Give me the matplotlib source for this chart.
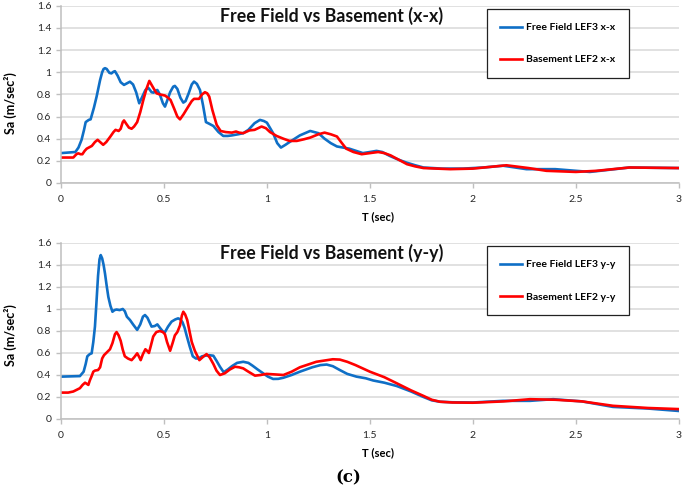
import matplotlib
matplotlib.use("Agg")
import matplotlib.pyplot as plt

plt.rcParams['font.family'] = ['Lato', 'DejaVu Sans']

# Free field vs basement, x-x direction
t_ff_x = [0, 0.07, 0.085, 0.10, 0.112, 0.12, 0.135, 0.144, 0.16, 0.173, 0.19, 0.20, 0.207, 0.214,
          0.222, 0.235, 0.245, 0.255, 0.262, 0.275, 0.29, 0.306, 0.32, 0.335, 0.35, 0.365, 0.38,
          0.395, 0.41, 0.424, 0.44, 0.45, 0.46, 0.468, 0.48, 0.495, 0.505, 0.515, 0.53, 0.545,
          0.553, 0.565, 0.58, 0.594, 0.605, 0.62, 0.635, 0.646, 0.66, 0.675, 0.69, 0.704, 0.72,
          0.74, 0.765, 0.788, 0.81, 0.83, 0.86, 0.885, 0.91, 0.94, 0.966, 0.985, 1.0, 1.03, 1.05,
          1.068, 1.09, 1.11, 1.16, 1.21, 1.25, 1.28, 1.31, 1.34, 1.40, 1.466, 1.50, 1.532, 1.56,
          1.597, 1.64, 1.678, 1.72, 1.76, 1.85, 1.953, 2.05, 2.147, 2.26, 2.40, 2.568, 2.76, 3.0]
sa_ff_x = [0.27, 0.28, 0.32, 0.39, 0.48, 0.55, 0.57, 0.575, 0.68, 0.78, 0.93, 1.0, 1.03, 1.037,
           1.03, 0.995, 0.99, 1.005, 1.01, 0.97, 0.91, 0.886, 0.90, 0.915, 0.89, 0.82, 0.72,
           0.78, 0.84, 0.86, 0.82, 0.816, 0.835, 0.84, 0.80, 0.72, 0.69, 0.74, 0.82, 0.87,
           0.877, 0.85, 0.77, 0.726, 0.74, 0.81, 0.89, 0.916, 0.895, 0.84, 0.70, 0.55, 0.535,
           0.515, 0.46, 0.425, 0.425, 0.43, 0.44, 0.45, 0.48, 0.54, 0.57, 0.56, 0.545, 0.45, 0.36,
           0.32, 0.345, 0.37, 0.43, 0.47, 0.45, 0.40, 0.36, 0.33, 0.31, 0.27, 0.28, 0.29, 0.28,
           0.244, 0.21, 0.184, 0.16, 0.14, 0.13, 0.13, 0.14, 0.156, 0.125, 0.125, 0.10, 0.14, 0.135]

t_bs_x = [0, 0.06, 0.075, 0.084, 0.095, 0.104, 0.115, 0.125, 0.14, 0.15, 0.165, 0.178, 0.19, 0.205,
          0.22, 0.24, 0.255, 0.265, 0.28, 0.29, 0.30, 0.306, 0.315, 0.33, 0.343, 0.355, 0.37,
          0.385, 0.40, 0.415, 0.429, 0.445, 0.464, 0.48, 0.505, 0.52, 0.532, 0.55, 0.565, 0.578,
          0.595, 0.618, 0.635, 0.646, 0.67, 0.685, 0.699, 0.71, 0.72, 0.735, 0.756, 0.775, 0.80,
          0.83, 0.85, 0.865, 0.885, 0.915, 0.94, 0.974, 0.995, 1.015, 1.047, 1.08, 1.11, 1.145,
          1.18, 1.21, 1.25, 1.28, 1.31, 1.34, 1.36, 1.385, 1.42, 1.46, 1.50, 1.54, 1.57, 1.60,
          1.64, 1.68, 1.72, 1.76, 1.89, 2.0, 2.163, 2.27, 2.357, 2.5, 2.6, 2.76, 3.0]
sa_bs_x = [0.23, 0.23, 0.26, 0.268, 0.26, 0.26, 0.29, 0.31, 0.325, 0.335, 0.37, 0.39, 0.37, 0.345,
           0.37, 0.42, 0.46, 0.48, 0.47, 0.49, 0.55, 0.565, 0.54, 0.50, 0.49, 0.51, 0.55,
           0.64, 0.75, 0.85, 0.922, 0.87, 0.81, 0.80, 0.79, 0.77, 0.75, 0.67, 0.60, 0.575,
           0.62, 0.69, 0.74, 0.76, 0.76, 0.80, 0.82, 0.81, 0.78, 0.66, 0.525, 0.47, 0.46,
           0.455, 0.465, 0.455, 0.45, 0.475, 0.48, 0.51, 0.495, 0.46, 0.425, 0.40, 0.38, 0.38,
           0.395, 0.41, 0.44, 0.455, 0.44, 0.42, 0.37, 0.31, 0.28, 0.26, 0.27, 0.28, 0.27, 0.25,
           0.21, 0.17, 0.15, 0.135, 0.125, 0.13, 0.16, 0.135, 0.11, 0.10, 0.11, 0.14, 0.135]

# y-y direction
t_ff_y = [0, 0.092, 0.11, 0.12, 0.128, 0.14, 0.149, 0.157, 0.165, 0.172, 0.18, 0.187, 0.193, 0.20,
          0.207, 0.214, 0.222, 0.23, 0.24, 0.25, 0.26, 0.27, 0.285, 0.30, 0.31, 0.32, 0.335,
          0.35, 0.37, 0.385, 0.398, 0.408, 0.42, 0.44, 0.455, 0.468, 0.48, 0.495, 0.505, 0.52,
          0.537, 0.555, 0.569, 0.58, 0.59, 0.60, 0.61, 0.625, 0.64, 0.655, 0.668, 0.685, 0.70,
          0.72, 0.74, 0.755, 0.772, 0.79, 0.81, 0.83, 0.855, 0.885, 0.91, 0.93, 0.955, 0.982,
          1.005, 1.03, 1.055, 1.08, 1.12, 1.16, 1.22, 1.26, 1.29, 1.32, 1.354, 1.39, 1.435, 1.48,
          1.516, 1.57, 1.63, 1.70, 1.76, 1.80, 1.84, 1.90, 2.0, 2.147, 2.277, 2.39, 2.53, 2.68,
          2.85, 3.0]
sa_ff_y = [0.385, 0.39, 0.43, 0.50, 0.57, 0.59, 0.597, 0.70, 0.84, 1.05, 1.30, 1.45, 1.49, 1.46,
           1.40, 1.32, 1.21, 1.11, 1.03, 0.975, 0.99, 0.995, 0.99, 1.0, 0.98, 0.93, 0.90,
           0.86, 0.81, 0.86, 0.93, 0.945, 0.92, 0.84, 0.845, 0.86, 0.83, 0.795, 0.79, 0.84,
           0.885, 0.905, 0.915, 0.905, 0.88, 0.83, 0.76, 0.66, 0.57, 0.55, 0.55, 0.57, 0.575,
           0.58, 0.575, 0.53, 0.475, 0.425, 0.45, 0.48, 0.51, 0.52, 0.51, 0.485, 0.45, 0.415,
           0.385, 0.364, 0.365, 0.375, 0.40, 0.43, 0.47, 0.49, 0.495, 0.48, 0.445, 0.41, 0.385, 0.37,
           0.35, 0.33, 0.30, 0.25, 0.20, 0.17, 0.157, 0.152, 0.15, 0.165, 0.165, 0.18, 0.16, 0.11,
           0.095, 0.073]

t_bs_y = [0, 0.035, 0.06, 0.092, 0.105, 0.117, 0.125, 0.133, 0.14, 0.149, 0.157, 0.165, 0.18,
          0.19, 0.20, 0.209, 0.225, 0.238, 0.25, 0.262, 0.27, 0.28, 0.29, 0.30, 0.31, 0.325,
          0.343, 0.355, 0.37, 0.378, 0.387, 0.398, 0.41, 0.418, 0.427, 0.437, 0.448, 0.463, 0.48,
          0.495, 0.505, 0.515, 0.53, 0.542, 0.553, 0.565, 0.578, 0.587, 0.594, 0.603, 0.613,
          0.625, 0.635, 0.65, 0.672, 0.69, 0.707, 0.722, 0.74, 0.755, 0.772, 0.795, 0.82, 0.845,
          0.865, 0.885, 0.91, 0.942, 0.97, 0.998, 1.04, 1.08, 1.12, 1.16, 1.24, 1.32, 1.354,
          1.39, 1.43, 1.50, 1.57, 1.63, 1.70, 1.76, 1.80, 1.84, 1.90, 2.0, 2.15, 2.277, 2.40,
          2.53, 2.68, 2.85, 3.0]
sa_bs_y = [0.24, 0.24, 0.25, 0.28, 0.31, 0.33, 0.32, 0.31, 0.35, 0.39, 0.43, 0.44, 0.445,
           0.47, 0.55, 0.58, 0.61, 0.634, 0.69, 0.77, 0.79, 0.76, 0.71, 0.63, 0.57, 0.55,
           0.535, 0.56, 0.597, 0.57, 0.535, 0.59, 0.634, 0.62, 0.60, 0.67, 0.75, 0.79, 0.80,
           0.79, 0.77, 0.70, 0.62, 0.69, 0.76, 0.79, 0.85, 0.94, 0.975, 0.95, 0.90,
           0.79, 0.70, 0.62, 0.535, 0.565, 0.59, 0.56, 0.50, 0.44, 0.40, 0.415, 0.45, 0.475,
           0.47, 0.46, 0.43, 0.394, 0.40, 0.41, 0.405, 0.40, 0.43, 0.47, 0.52, 0.543, 0.54,
           0.52, 0.49, 0.43, 0.38, 0.325, 0.26, 0.21, 0.175, 0.157, 0.15, 0.148, 0.16, 0.18, 0.175,
           0.16, 0.12, 0.10, 0.09]

y_ticks = [0, 0.2, 0.4, 0.6, 0.8, 1.0, 1.2, 1.4, 1.6]
y_tick_labels = ['0', '0.2', '0.4', '0.6', '0.8', '1', '1.2', '1.4', '1.6']
x_ticks = [0, 0.5, 1, 1.5, 2, 2.5, 3]
x_tick_labels = ['0', '0.5', '1', '1.5', '2', '2.5', '3']

blue = '#0F6FC6'
red = '#FF0000'
grey = '#BFBFBF'

fig = plt.figure(figsize=(6.85, 4.88), dpi=100)
ax1 = fig.add_axes([0.089, 0.625, 0.902, 0.363])
ax2 = fig.add_axes([0.089, 0.1414, 0.902, 0.3607])

panels = [
    (ax1, t_ff_x, sa_ff_x, t_bs_x, sa_bs_x, 'x-x'),
    (ax2, t_ff_y, sa_ff_y, t_bs_y, sa_bs_y, 'y-y'),
]

for ax, t1, s1, t2, s2, d in panels:
    ax.plot(t1, s1, color=blue, lw=1.9, solid_joinstyle='round', label=f'Free Field LEF3 {d}')
    ax.plot(t2, s2, color=red, lw=1.9, solid_joinstyle='round', label=f'Basement LEF2 {d}')
    ax.set_xlim(0, 3)
    ax.set_ylim(0, 1.6)
    ax.set_yticks(y_ticks)
    ax.set_yticklabels(y_tick_labels)
    ax.set_xticks(x_ticks)
    ax.set_xticklabels(x_tick_labels)
    ax.grid(axis='y', color='#D9D9D9', lw=1.1)
    ax.set_axisbelow(True)
    for s in ['top', 'right']:
        ax.spines[s].set_visible(False)
    for s in ['left', 'bottom']:
        ax.spines[s].set_color(grey)
        ax.spines[s].set_linewidth(1.1)
    ax.tick_params(axis='both', colors=grey, labelcolor='#262626', labelsize=7.5,
                   length=3.5, width=1.0, direction='out')
    ax.tick_params(axis='x', pad=5)
    ax.text(1.315, 1.51, f'Free Field vs Basement ({d})', ha='center', va='center',
            fontsize=12.8, fontweight='bold', color='#111111')
    leg = ax.legend(loc='upper left', bbox_to_anchor=(0.689, 0.98),
                    prop={'weight': 'bold', 'size': 7.5}, frameon=True, fancybox=False,
                    edgecolor='#222222', framealpha=1, borderpad=1.3, labelspacing=2.2,
                    handlelength=2.1, handletextpad=0.4, borderaxespad=0)
    leg.get_frame().set_linewidth(0.9)

# axis labels
fig.text(0.015, 1 - 103 / 488, 'Sa (m/sec²)', rotation=90, ha='center', va='center',
         fontsize=9, fontweight='bold')
fig.text(0.015, 1 - 335 / 488, 'Sa (m/sec²)', rotation=90, ha='center', va='center',
         fontsize=9, fontweight='bold')
fig.text(378 / 685, 1 - 217 / 488, 'T (sec)', ha='center', va='center', fontsize=8, fontweight='bold')
fig.text(378 / 685, 1 - 453 / 488, 'T (sec)', ha='center', va='center', fontsize=8, fontweight='bold')
fig.text(348 / 685, 1 - 478 / 488, '(c)', ha='center', va='center', fontsize=12,
         fontweight='bold', family='DejaVu Serif')

fig.savefig('out.png', dpi=100)
